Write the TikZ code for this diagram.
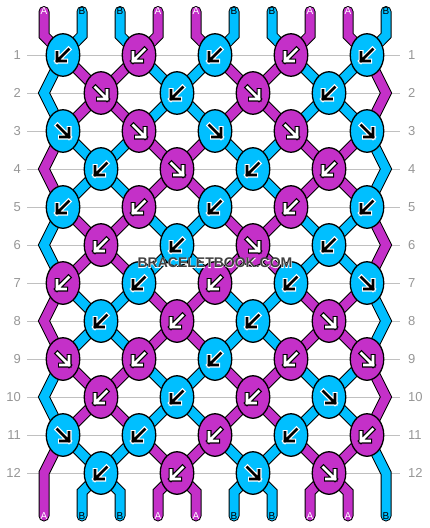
\documentclass[tikz,border=0pt]{standalone}
\usepackage{fontspec}
\setmainfont{Liberation Sans}
\newfontfamily\wmhalofont[FakeBold=3]{Liberation Sans Bold}
\usepackage{tikz}
\usetikzlibrary{shapes.geometric,backgrounds}

\definecolor{magA}{RGB}{196,48,200}
\definecolor{blueB}{RGB}{0,191,255}
\definecolor{rowgrey}{RGB}{192,192,192}
\definecolor{numgrey}{RGB}{150,150,150}
\definecolor{wmgrey}{RGB}{64,64,64}

\tikzset{
  knotA/.style={ellipse,draw=black,line width=1.3pt,fill=magA,minimum width=33.5pt,minimum height=42.5pt,inner sep=0pt},
  knotB/.style={knotA,fill=blueB},
  strandA/.style={draw=black,line width=1pt,double=magA,double distance=9pt,line join=miter},
  strandB/.style={strandA,double=blueB},
  arroutA/.style={draw=black,line width=5pt,line cap=rect,line join=miter},
  arrinA/.style={draw=white,line width=2.6pt,line cap=rect,line join=miter},
  arroutB/.style={arroutA,draw=white},
  arrinB/.style={arrinA,draw=black},
  endA/.style={text=white,font=\fontsize{10}{10}\selectfont,inner sep=0pt},
  endB/.style={endA,text=black},
  rownum/.style={text=numgrey,font=\fontsize{13}{13}\selectfont,inner sep=0pt},
  rowline/.style={draw=rowgrey,line width=1pt},
  wmhalo/.style={text=white,font=\wmhalofont\fontsize{14}{14}\selectfont,inner sep=0pt},
  wm/.style={text=wmgrey,font=\bfseries\fontsize{14}{14}\selectfont,inner sep=0pt}
}

\begin{document}
\begin{tikzpicture}[x=1pt,y=-1pt]
\useasboundingbox (0,0) rectangle (430,528);

% knots, row by row: colour / direction (-1 = down-left, 1 = down-right)
\foreach \r/\knots in {1/{B/-1,A/-1,B/-1,A/-1,B/-1},
                       2/{A/1,B/-1,A/1,B/-1},
                       3/{B/1,A/1,B/1,A/1,B/1},
                       4/{B/-1,A/1,B/-1,A/-1},
                       5/{B/-1,A/-1,B/-1,A/-1,B/-1},
                       6/{A/-1,B/-1,A/1,B/-1},
                       7/{A/-1,B/-1,A/-1,B/-1,B/1},
                       8/{B/-1,A/-1,B/-1,A/1},
                       9/{A/1,A/-1,B/-1,A/-1,A/1},
                       10/{A/-1,B/-1,A/-1,B/1},
                       11/{B/1,B/-1,A/-1,B/-1,A/-1},
                       12/{B/-1,A/-1,B/1,A/1}}{
  \pgfmathsetmacro{\yy}{55+38*(\r-1)}
  \pgfmathsetmacro{\xo}{ifthenelse(mod(\r,2)==1,63,101)}
  \node[rownum,anchor=east] (nl\r) at (21,\yy) {\r};
  \node[rownum,anchor=west] (nr\r) at (408,\yy) {\r};
  \foreach \col/\s [count=\c] in \knots {
    \node[knot\col] (k\r-\c) at ({\xo+76*(\c-1)},\yy) {};
    \begin{scope}[shift={(k\r-\c.center)},xscale=\s]
      \draw[arrout\col] (-5.5,-5.5) -- (6,6) (6,-2.5) -- (6,6) -- (-2.5,6);
      \draw[arrin\col] (-5.5,-5.5) -- (6,6) (6,-2.5) -- (6,6) -- (-2.5,6);
    \end{scope}
  }
}

% edge turning points
\foreach \r in {2,4,...,12}{
  \coordinate (el\r) at (44,{55+38*(\r-1)});
  \coordinate (er\r) at (386,{55+38*(\r-1)});
}

% string ends
\foreach \p/\clr in {0/A,1/B,2/B,3/A,4/A,5/B,6/B,7/A,8/A,9/B}{
  \node[end\clr] (t\p) at ({44+38*\p},11.5) {\clr};
  \node[end\clr] (b\p) at ({44+38*\p},516) {\clr};
}

\begin{scope}[on background layer]
  \foreach \r in {1,...,12}
    \draw[rowline] (27,{55+38*(\r-1)}) -- (400,{55+38*(\r-1)});

  % top strands
  \foreach \p/\clr/\c in {0/A/1,1/B/1,2/B/2,3/A/2,4/A/3,5/B/3,6/B/4,7/A/4,8/A/5,9/B/5}
    \draw[strand\clr,line cap=round] (t\p.center) -- ++(0,24) -- (k1-\c.center);

  % strands between knots
  \foreach \r in {1,...,11}{
    \pgfmathtruncatemacro{\rn}{\r+1}
    \pgfmathtruncatemacro{\flip}{mod(int((\r+1)/2),2)}
    \foreach \p in {1,...,8}{
      \pgfmathtruncatemacro{\ca}{ifthenelse(mod(\r,2)==1,int(\p/2)+1,int((\p+1)/2))}
      \pgfmathtruncatemacro{\cb}{ifthenelse(mod(\rn,2)==1,int(\p/2)+1,int((\p+1)/2))}
      \pgfmathtruncatemacro{\isA}{abs(ifthenelse(or(mod(\p,4)==0,mod(\p,4)==3),1,0)-\flip)}
      \ifnum\isA=1 \def\clr{A}\else\def\clr{B}\fi
      \draw[strand\clr] (k\r-\ca.center) -- (k\rn-\cb.center);
    }
  }

  % edge strands
  \foreach \r/\cl/\cr in {2/B/A,4/A/B,6/B/A,8/A/B,10/B/A}{
    \pgfmathtruncatemacro{\ru}{\r-1}
    \pgfmathtruncatemacro{\rd}{\r+1}
    \draw[strand\cl] (k\ru-1.center) -- (el\r) -- (k\rd-1.center);
    \draw[strand\cr] (k\ru-5.center) -- (er\r) -- (k\rd-5.center);
  }

  % bottom strands
  \draw[strandA,line cap=round] (k11-1.center) -- (el12) -- (b0.center);
  \draw[strandB,line cap=round] (k11-5.center) -- (er12) -- (b9.center);
  \foreach \p/\clr/\c in {1/B/1,2/B/1,3/A/2,4/A/2,5/B/3,6/B/3,7/A/4,8/A/4}
    \draw[strand\clr,line cap=round] (k12-\c.center) -- ({44+38*\p},492) -- (b\p.center);
\end{scope}

% watermark
\node[wmhalo] (wmbg) at (215,263) {BRACELETBOOK.COM};
\node[wm] (wm) at (215,263) {BRACELETBOOK.COM};
\end{tikzpicture}
\end{document}
